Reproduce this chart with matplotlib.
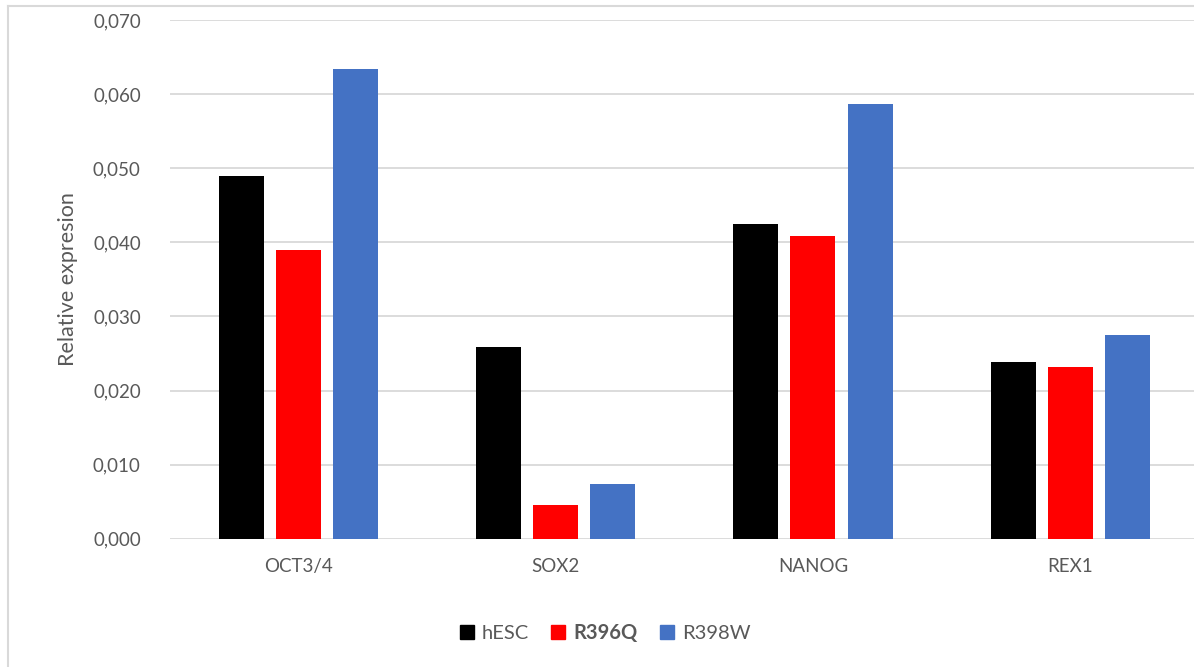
import matplotlib
matplotlib.use("Agg")
import matplotlib.pyplot as plt
import numpy as np
from matplotlib.lines import Line2D
from matplotlib.patches import Patch

genes = ["OCT3/4", "SOX2", "NANOG", "REX1"]
hesc = [0.0490, 0.0259, 0.0425, 0.0238]
r396q = [0.0389, 0.0045, 0.0409, 0.0232]
r398w = [0.0634, 0.0074, 0.0586, 0.0275]
series_names = ["hESC", "R396Q", "R398W"]
colors = ["#000000", "#FF0000", "#4472C4"]
yticks = [0.0, 0.01, 0.02, 0.03, 0.04, 0.05, 0.06, 0.07]

plt.rcParams['font.family'] = ['Lato', 'DejaVu Sans']
grey = "#595959"

W, H = 1194, 667
fig = plt.figure(figsize=(W / 100, H / 100), dpi=100)
ax = fig.add_axes([170 / W, (H - 538.7) / H, 1028.7 / W, 518.7 / H])

x = np.arange(len(genes))
step = 0.222
width = 0.175
for i, (vals, c) in enumerate(zip([hesc, r396q, r398w], colors)):
    ax.bar(x + (i - 1) * step, vals, width, color=c, zorder=3)

ax.set_xlim(-0.5, 3.5)
ax.set_ylim(0, 0.07)
ax.set_yticks(yticks)
ax.set_yticklabels([f"{v:.3f}".replace(".", ",") for v in yticks])
ax.set_xticks(x)
ax.set_xticklabels(genes)
ax.tick_params(axis="both", length=0, labelsize=13.5, colors=grey)
ax.tick_params(axis="y", pad=21)
ax.tick_params(axis="x", pad=14)
for s in ax.spines.values():
    s.set_visible(False)
ax.grid(axis="y", color="#d9d9d9", linewidth=1.3, zorder=0)
ax.set_axisbelow(True)
ax.set_ylabel("Relative expresion", fontsize=15.5, color=grey)
ax.yaxis.set_label_coords(-(170 - 78) / 1028.7, 0.5)

handles = [Patch(facecolor=c, edgecolor=c) for c in colors]
leg = fig.legend(handles, series_names, loc="center", bbox_to_anchor=(605 / W, 1 - 633 / H),
                 ncol=3, frameon=False, fontsize=14.5, handlelength=0.7, handleheight=0.7,
                 handletextpad=0.4, columnspacing=1.1)
for t in leg.get_texts():
    t.set_color(grey)
leg.get_texts()[1].set_fontweight("bold")

# outer chart border (cropped at right and bottom)
fig.add_artist(Line2D([8 / W, 8 / W], [0, 1 - 6 / H], color="#d9d9d9", linewidth=1.5))
fig.add_artist(Line2D([8 / W, 1], [1 - 6 / H, 1 - 6 / H], color="#d9d9d9", linewidth=1.5))

fig.savefig("out.png", dpi=100)
